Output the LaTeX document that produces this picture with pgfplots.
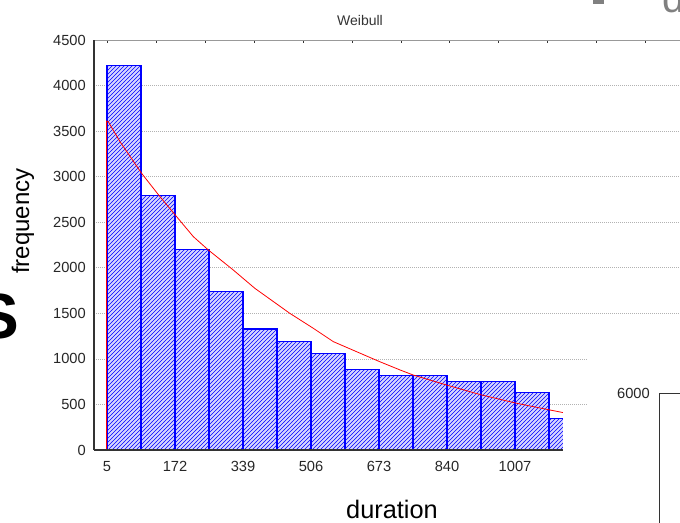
\documentclass[border=0pt]{standalone}
\usepackage{fontspec}
\setmainfont{Liberation Sans}
\usepackage{pgfplots}
\pgfplotsset{compat=1.18}
\usetikzlibrary{patterns}
\makeatletter
\pgfdeclarepatterninherentlycolored{bluehatch}
{\pgfqpoint{-1pt}{-1pt}}{\pgfqpoint{4pt}{4pt}}{\pgfqpoint{3pt}{3pt}}
{
  \pgfsys@color@rgb@stroke{0}{0}{1}%
  \pgfsetlinewidth{0.45pt}%
  \pgfpathmoveto{\pgfqpoint{0pt}{0pt}}%
  \pgfpathlineto{\pgfqpoint{3.1pt}{3.1pt}}%
  \pgfusepath{stroke}%
}
\makeatother
\definecolor{barground}{RGB}{215,215,255}
\pgfplotstableread{
x h
46.75 4220
130.25 2790
213.75 2205
297.25 1738
380.75 1328
464.25 1196
547.75 1061
631.25 884
714.75 816
798.25 816
881.75 750
965.25 750
1048.75 633
}\bars
\pgfplotstableread{
x h
1107.75 348
}\lastbar
\begin{document}
\begin{tikzpicture}
\useasboundingbox (0,0) rectangle (510pt,391.5pt);
\begin{axis}[
  at={(70.5pt,54pt)}, anchor=south west,
  scale only axis, width=454.5pt, height=307.5pt,
  xmin=-26.9, xmax=1461.3, ymin=0, ymax=4500,
  axis line style={draw=none},
  clip=false,
  xtick={5,172,339,506,673,840,1007},
  ytick={0,500,...,4500},
  major tick length=0pt,
  extra x ticks={7,127,247,367,487,607,727,847,967,1087,1207,1327},
  extra x tick labels={},
  extra x tick style={major tick length=2.5pt, tick style={draw=black!80, line width=0.6pt}},
  ymajorgrids,
  major grid style={draw=black!30, dash pattern=on 0.6pt off 0.9pt, line width=0.5pt},
  tick label style={font=\fontsize{11}{13}\selectfont, text=black!85, inner sep=0pt},
  /pgf/number format/assume math mode=true,
  /pgf/number format/1000 sep={},
  xticklabel shift=8.5pt,
  yticklabel shift=6pt,
]
% ground of bars
\addplot[ybar, bar width=83.5, bar shift=0pt, fill=barground, draw=none] table[x=x,y=h] {\bars};
\addplot[ybar, bar width=34.5, bar shift=0pt, fill=barground, draw=none] table[x=x,y=h] {\lastbar};
% hatching
\addplot[ybar, bar width=83.5, bar shift=0pt, draw=none, pattern=bluehatch] table[x=x,y=h] {\bars};
\addplot[ybar, bar width=34.5, bar shift=0pt, draw=none, pattern=bluehatch] table[x=x,y=h] {\lastbar};
% bar outlines
\addplot[ybar, bar width=83.5, bar shift=0pt, draw=blue, fill=none, line width=0.8pt] table[x=x,y=h] {\bars};
\addplot[ybar, bar width=34.5, bar shift=0pt, draw=blue, fill=none, line width=0.8pt] table[x=x,y=h] {\lastbar};
% Weibull fit
\addplot[red, line width=1pt] coordinates {(3.5,0) (3.5,900)};
\addplot[red, line width=0.6pt] coordinates {
 (4,0) (4,3610) (8,3604) (37,3384) (90,3037) (135,2781) (176,2561) (217,2342) (254,2195)
 (315,1976) (368,1775) (454,1500) (512,1335) (561,1189) (618,1079) (675,969) (725,878)
 (757,823) (839,713) (925,604) (1011,513) (1093,439) (1126,410)};
% frame lines
\draw[black!40, line width=0.75pt] (axis cs:-26.9,4500) -- (axis cs:1461.3,4500);
\draw[black!80, line width=1pt] (axis cs:-26.9,0) -- (axis cs:-26.9,4500);
\draw[black!80, line width=1pt] (axis cs:-26.9,0) -- (axis cs:1125,0);
\end{axis}
% overlapping window at the lower right
\fill[white] (422.25pt,-5pt) rectangle (520pt,84.75pt);
\fill[white] (441pt,-5pt) rectangle (520pt,136.5pt);
\node[anchor=east, inner sep=0pt, font=\fontsize{11}{13}\selectfont, text=black!85] at (487.5pt,96.75pt) {6000};
\draw[black!80, line width=0.75pt] (494.25pt,-5pt) -- (494.25pt,96.75pt) -- (520pt,96.75pt);
% texts
\node[font=\fontsize{10.5}{12}\selectfont, text=black!80] at (270pt,376.5pt) {Weibull};
\node[anchor=base, inner sep=0pt, font=\fontsize{19}{22}\selectfont] at (294pt,3pt) {duration};
\node[rotate=90, inner sep=0pt, font=\fontsize{18}{21}\selectfont] at (17.25pt,225.75pt) {frequency};
% fragments of neighbouring windows
\node[anchor=east, inner sep=0pt, font=\fontsize{48}{50}\selectfont\bfseries] at (14.25pt,154pt) {S};
\node[anchor=base west, inner sep=0pt, text=black!50, font=\fontsize{30}{30}\selectfont] at (496.5pt,381.75pt) {d};
\fill[black!50] (444.75pt,388.5pt) rectangle (453pt,392pt);
\end{tikzpicture}
\end{document}
